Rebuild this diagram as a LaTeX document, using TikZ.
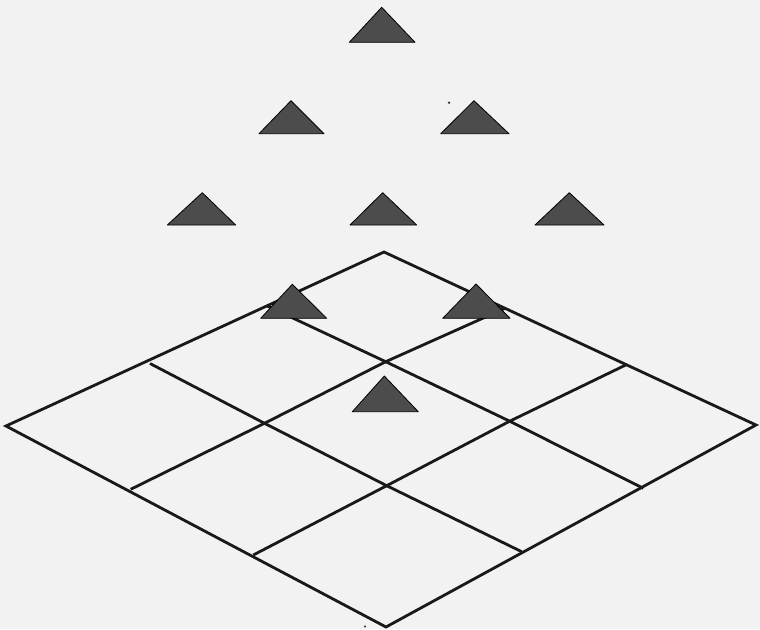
\documentclass[tikz,border=0pt]{standalone}
\begin{document}
\begin{tikzpicture}[x=1pt,y=-1pt,
  gridline/.style={line width=2.8pt,line join=miter,black!90},
  tri/.style={fill=black!70,draw=black,line width=0.8pt,line join=round},
  speck/.style={fill=black!80}]
\fill[black!5] (0,0) rectangle (760,629);
\useasboundingbox (0,0) rectangle (760,629);
% grid points P(a,b): a along top->right, b along top->left
\coordinate (p00) at (384,252);
\coordinate (p10) at (505,308.3);
\coordinate (p20) at (626.7,364.5);
\coordinate (p30) at (756,425);
\coordinate (p01) at (267,305.9);
\coordinate (p11) at (385.7,361.7);
\coordinate (p21) at (509.7,421.2);
\coordinate (p31) at (643.3,488.3);
\coordinate (p02) at (150,363.5);
\coordinate (p12) at (264.5,423.3);
\coordinate (p22) at (386.7,485.7);
\coordinate (p32) at (521.7,551.7);
\coordinate (p03) at (6,426);
\coordinate (p13) at (130.7,489.3);
\coordinate (p23) at (253.3,555);
\coordinate (p33) at (386,627);
% outline
\draw[gridline] (p00) -- (p30) -- (p33) -- (p03) -- cycle;
% lines parallel to top-right edge
\draw[gridline] (p01) -- (p11) -- (p21) -- (p31);
\draw[gridline] (p02) -- (p12) -- (p22) -- (p32);
% lines parallel to top-left edge
\draw[gridline] (p10) -- (p11) -- (p12) -- (p13);
\draw[gridline] (p20) -- (p21) -- (p22) -- (p23);
% triangles
\fill[tri] (381.7,7.3) -- (415,42.3) -- (349.3,42.3) -- cycle;
\fill[tri] (291,100.7) -- (324,133.7) -- (259,133.7) -- cycle;
\fill[tri] (474,100.7) -- (509,133.7) -- (440.7,133.7) -- cycle;
\fill[tri] (202.3,192.7) -- (235.7,225) -- (167.3,225) -- cycle;
\fill[tri] (382.7,192.7) -- (416.7,225) -- (350,225) -- cycle;
\fill[tri] (569.3,192.7) -- (604,225) -- (535,225) -- cycle;
\fill[tri] (292.3,284.3) -- (326.7,318.3) -- (260.7,318.3) -- cycle;
\fill[tri] (476,284) -- (510,318.3) -- (442.7,318.3) -- cycle;
\fill[tri] (384.3,376) -- (418.3,411.7) -- (352.3,411.7) -- cycle;
% specks
\fill[speck] (449,102.7) circle (1.3);
\fill[speck] (365,626.5) circle (1.2);
\end{tikzpicture}
\end{document}
